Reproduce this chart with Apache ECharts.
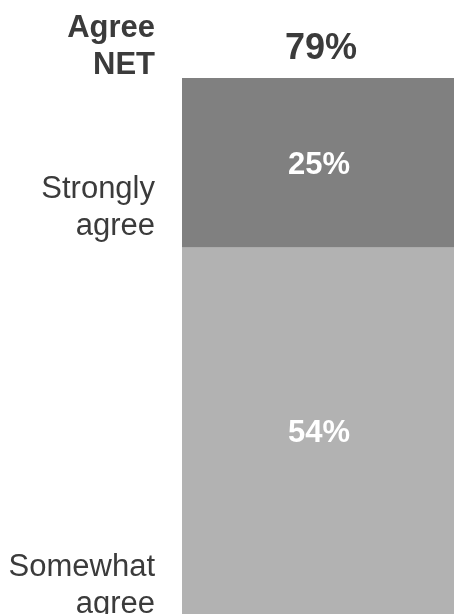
<!DOCTYPE html>
<html>
<head>
<meta charset="utf-8">
<script src="https://cdn.jsdelivr.net/npm/echarts@6/dist/echarts.min.js"></script>
<style>
  html, body { margin: 0; padding: 0; background: #ffffff; }
  #chart { width: 454px; height: 614px; }
</style>
</head>
<body>
<div id="chart"></div>
<script>
// Single stacked column: agreement breakdown
const categories = ['Agree'];
const segmentNames = ['Somewhat agree', 'Strongly agree'];
const segmentValues = [54, 25];
const netName = 'Agree NET';
const netValue = 79;

const FONT = '"Liberation Sans", Arial, Helvetica, sans-serif';
const TEXT_COLOR = '#3b3b3b';
const segmentColors = ['#b2b2b2', '#808080'];

// Vertical nudges (px) for the side captions, keyed by caption text
const captionNudge = { 'Somewhat agree': 9, 'Strongly agree': -3, 'Agree NET': 6 };

// Side captions sit at the bottom edge of the stretch they describe
const captions = [];
let running = 0;
segmentNames.forEach((name, i) => {
  captions.push([0, running, name.replace(' ', '\n'), false]);
  running += segmentValues[i];
});
captions.push([0, netValue, netName.replace(' ', '\n'), true]);

const chart = echarts.init(document.getElementById('chart'), null, { renderer: 'canvas' });

const series = segmentNames.map((name, i) => ({
  name: name,
  type: 'bar',
  stack: 'agree',
  barCategoryGap: '0%',
  itemStyle: { color: segmentColors[i] },
  label: {
    show: true,
    position: 'inside',
    offset: [1, 3],
    formatter: '{c}%',
    color: '#ffffff',
    fontFamily: FONT,
    fontWeight: 'bold',
    fontSize: 31
  },
  data: [segmentValues[i]]
}));

// Captions to the left of the column
series.push({
  name: 'captions',
  type: 'custom',
  silent: true,
  renderItem: function (params, api) {
    const idx = params.dataIndex;
    const item = captions[idx];
    const pt = api.coord([api.value(0), api.value(1)]);
    const key = item[2].replace('\n', ' ');
    return {
      type: 'text',
      x: params.coordSys.x - 27,
      y: pt[1] + (captionNudge[key] || 0),
      style: {
        text: item[2],
        align: 'right',
        verticalAlign: 'bottom',
        fill: TEXT_COLOR,
        font: (item[3] ? 'bold ' : '') + '31px ' + FONT,
        lineHeight: 37
      }
    };
  },
  encode: { x: 0, y: 1 },
  data: captions.map(c => [c[0], c[1]])
});

// Net total above the column
series.push({
  name: 'net',
  type: 'custom',
  silent: true,
  renderItem: function (params, api) {
    const pt = api.coord([api.value(0), api.value(1)]);
    return {
      type: 'text',
      x: pt[0] + 3,
      y: pt[1] - 11,
      style: {
        text: api.value(1) + '%',
        align: 'center',
        verticalAlign: 'bottom',
        fill: TEXT_COLOR,
        font: 'bold 36px ' + FONT,
        lineHeight: 36
      }
    };
  },
  encode: { x: 0, y: 1 },
  data: [[0, netValue]]
});

chart.setOption({
  animation: false,
  backgroundColor: '#ffffff',
  grid: { left: 182, right: 0, top: 78, bottom: 0, containLabel: false },
  xAxis: {
    type: 'category',
    data: categories,
    show: false
  },
  yAxis: {
    type: 'value',
    min: 0,
    max: netValue,
    show: false,
    splitLine: { show: false }
  },
  series: series
});
</script>
</body>
</html>
